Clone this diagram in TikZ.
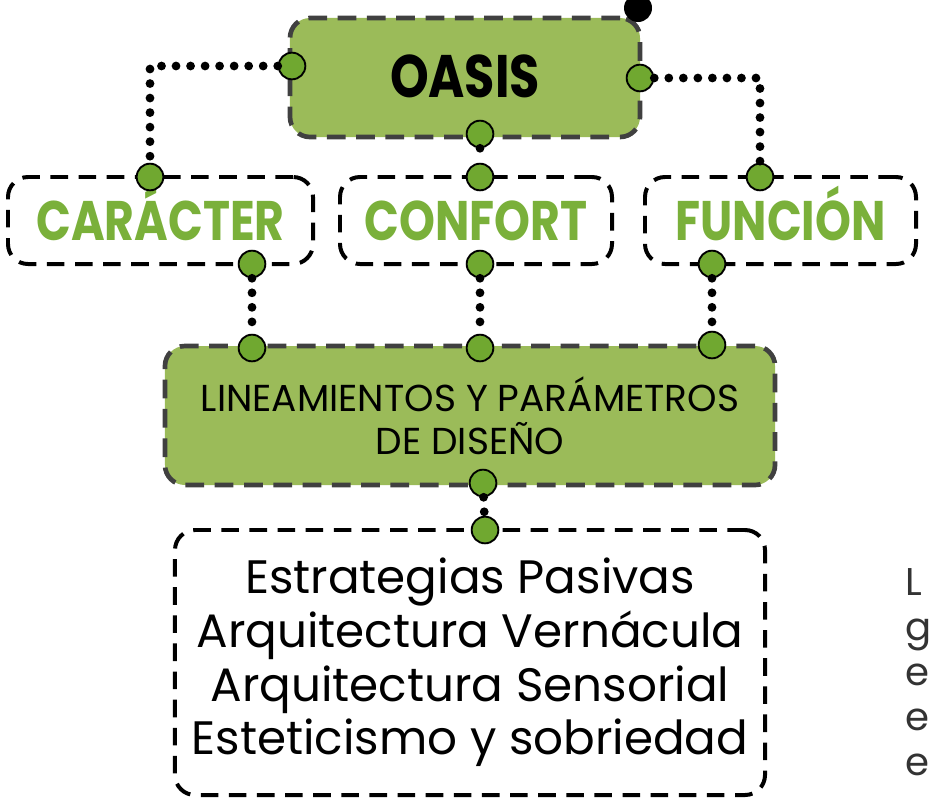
\documentclass[tikz,border=0pt]{standalone}
\usepackage{fontspec}
\setmainfont{Poppins}
\usetikzlibrary{shapes.geometric}
\definecolor{boxgreen}{RGB}{155,187,89}
\definecolor{portgreen}{RGB}{112,168,48}
\definecolor{textgreen}{RGB}{122,176,58}
\definecolor{rimgray}{RGB}{64,64,64}
\newcommand{\stretchtext}[1]{\scalebox{1}[1.22]{#1}}
\tikzset{
  greenbox/.style={draw=rimgray, fill=boxgreen, line width=4pt, dash pattern=on 16pt off 9pt, rounded corners=0.6cm},
  dashbox/.style={draw=black, line width=3.4pt, dash pattern=on 15pt off 9pt, rounded corners=0.6cm},
  port/.style={circle, draw=black, fill=portgreen, line width=1.6pt, inner sep=0pt, minimum size=0.8cm},
  dotline/.style={line width=7.5pt, line cap=round, dash pattern=on 0pt off 12.4pt},
  pillar/.style={dashbox, minimum height=2.61cm, text height=34pt, text depth=0pt, text=textgreen, font=\bfseries\fontsize{39}{44}\selectfont}
}

\begin{document}
\begin{tikzpicture}[x=0.03cm, y=-0.03cm]
        \useasboundingbox (0,0) rectangle (933,806);
        % boxes
        \node[greenbox, minimum width=10.5cm, minimum height=3.57cm, text height=34pt, text depth=0pt, font=\bfseries\fontsize{42}{46}\selectfont] (oasis) at (465,77.5) {\stretchtext{OASIS}};
        \node[circle, fill=black, inner sep=0pt, minimum size=0.84cm] (knob) at (638,8) {};
        \node[pillar, minimum width=9.15cm] (caracter) at (160.5,220.5) {\stretchtext{CARÁCTER}};
        \node[pillar, minimum width=8.16cm] (confort) at (476,220.5) {\stretchtext{CONFORT}};
        \node[pillar, minimum width=8.13cm] (funcion) at (780.5,220.5) {\stretchtext{FUNCIÓN}};
        \node[greenbox, minimum width=18.3cm, minimum height=4.17cm, align=center, font=\fontsize{32}{37}\selectfont] (lineas) at (470,415.5) {LINEAMIENTOS Y PARÁMETROS\\DE DISEÑO};
        \node[dashbox, minimum width=17.7cm, minimum height=7.95cm, align=center, font=\fontsize{40}{45.7}\selectfont] (criterios) at (470,662.5) {Estrategias Pasivas\\Arquitectura Vernácula\\Arquitectura Sensorial\\Esteticismo y sobriedad};
        \node[anchor=west, align=left, text=black!80, font=\fontsize{33}{38.4}\selectfont] (margen) at (901,672) {L\\g\\e\\e\\e};
        % ports
        \node[port] (oW) at (292,66) {};
        \node[port] (oE) at (640,78) {};
        \node[port] (oS) at (480,134) {};
        \node[port] (carN) at (150,177) {};
        \node[port] (carS) at (252,264) {};
        \node[port] (conN) at (480,177) {};
        \node[port] (conS) at (480,264) {};
        \node[port] (funN) at (760,177) {};
        \node[port] (funS) at (712,264) {};
        \node[port] (linA) at (252,348) {};
        \node[port] (linB) at (480,348) {};
        \node[port] (linC) at (712,345) {};
        \node[port] (linS) at (483,483) {};
        \node[port] (criN) at (485,530) {};
        % connectors
        \draw[dotline] (oW) -| (carN);
        \draw[dotline] (oE) -| (funN);
        \draw[dotline] (oS) -- (conN);
        \draw[dotline] (carS) -- (linA);
        \draw[dotline] (conS) -- (linB);
        \draw[dotline] (funS) -- (linC);
        \draw[dotline] (linS) -- (criN);
\end{tikzpicture}
\end{document}
